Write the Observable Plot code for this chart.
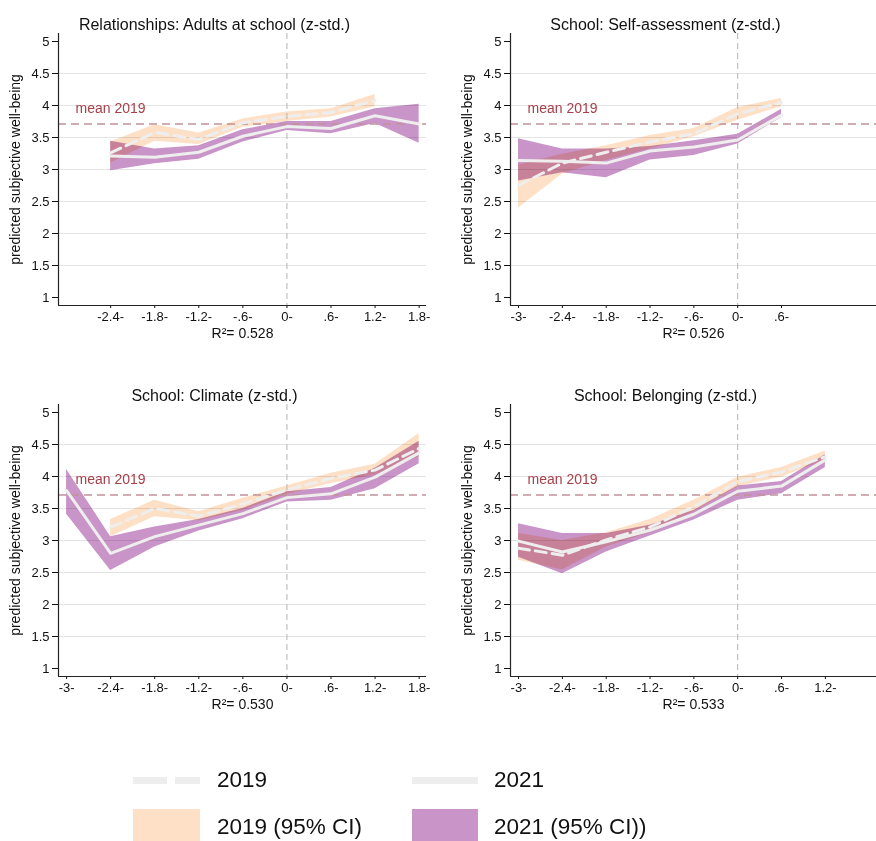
<!DOCTYPE html>
<html>
<head>
<meta charset="utf-8">
<script src="https://cdn.jsdelivr.net/npm/d3@7"></script>
<script src="https://cdn.jsdelivr.net/npm/@observablehq/plot@0.6"></script>
<style>
  html, body { margin: 0; padding: 0; background: white; }
  body { font-family: "Liberation Sans", Arial, sans-serif; }
  #root { position: relative; width: 876px; height: 841px; overflow: hidden; background: white; }
  .panel { position: absolute; }
  .lg-text { position: absolute; font-size: 22.5px; line-height: 26px; color: #111; white-space: nowrap; }
  .lg-sw { position: absolute; }
</style>
</head>
<body>
<div id="root"></div>
<script>
// ---------- data ----------
const yTicks = [1, 1.5, 2, 2.5, 3, 3.5, 4, 4.5, 5];
const yGrid = [1.5, 2, 2.5, 3, 3.5, 4, 4.5];
const mean2019 = 3.71;
const meanLabel = "mean 2019";
const yLabel = "predicted subjective well-being";
const tickLabels = {"-3": "-3-", "-2.4": "-2.4-", "-1.8": "-1.8-", "-1.2": "-1.2-", "-0.6": "-.6-", "0": "0-", "0.6": ".6-", "1.2": "1.2-", "1.8": "1.8-"};

// Panel 1: Relationships: Adults at school
const adultsTitle = "Relationships: Adults at school (z-std.)";
const adultsR2 = "R²= 0.528";
const adultsTicks = [-2.4, -1.8, -1.2, -0.6, 0, 0.6, 1.2, 1.8];
const adultsX2019 = [-2.4, -1.8, -1.2, -0.6, 0, 0.6, 1.2];
const adults2019 = [3.26, 3.58, 3.47, 3.73, 3.83, 3.89, 4.08];
const adults2019lo = [3.10, 3.44, 3.39, 3.66, 3.75, 3.82, 3.98];
const adults2019hi = [3.43, 3.70, 3.57, 3.79, 3.90, 3.95, 4.17];
const adultsX2021 = [-2.4, -1.8, -1.2, -0.6, 0, 0.6, 1.2, 1.8];
const adults2021 = [3.21, 3.19, 3.27, 3.52, 3.67, 3.64, 3.84, 3.71];
const adults2021lo = [2.98, 3.09, 3.16, 3.43, 3.61, 3.56, 3.72, 3.41];
const adults2021hi = [3.44, 3.32, 3.37, 3.62, 3.75, 3.75, 3.95, 4.02];

// Panel 2: School: Self-assessment
const selfTitle = "School: Self-assessment (z-std.)";
const selfR2 = "R²= 0.526";
const selfTicks = [-3, -2.4, -1.8, -1.2, -0.6, 0, 0.6];
const selfX2019 = [-3, -2.4, -1.8, -1.2, -0.6, 0, 0.6];
const self2019 = [2.75, 3.10, 3.27, 3.43, 3.56, 3.87, 4.05];
const self2019lo = [2.40, 2.93, 3.14, 3.32, 3.51, 3.77, 3.98];
const self2019hi = [3.07, 3.24, 3.37, 3.53, 3.64, 3.97, 4.11];
const selfX2021 = [-3, -2.4, -1.8, -1.2, -0.6, 0, 0.6];
const self2021 = [3.14, 3.13, 3.10, 3.29, 3.35, 3.46, 3.85];
const self2021lo = [2.82, 2.95, 2.87, 3.15, 3.22, 3.40, 3.81];
const self2021hi = [3.48, 3.32, 3.32, 3.36, 3.45, 3.55, 3.94];

// Panel 3: School: Climate
const climateTitle = "School: Climate (z-std.)";
const climateR2 = "R²= 0.530";
const climateTicks = [-3, -2.4, -1.8, -1.2, -0.6, 0, 0.6, 1.2, 1.8];
const climateX2019 = [-2.4, -1.8, -1.2, -0.6, 0, 0.6, 1.2, 1.8];
const climate2019 = [3.21, 3.50, 3.38, 3.57, 3.79, 3.97, 4.10, 4.44];
const climate2019lo = [3.06, 3.37, 3.31, 3.47, 3.72, 3.89, 4.02, 4.31];
const climate2019hi = [3.33, 3.63, 3.45, 3.66, 3.85, 4.05, 4.19, 4.67];
const climateX2021 = [-3, -2.4, -1.8, -1.2, -0.6, 0, 0.6, 1.2, 1.8];
const climate2021 = [3.78, 2.80, 3.06, 3.24, 3.42, 3.67, 3.73, 3.99, 4.37];
const climate2021lo = [3.41, 2.53, 2.90, 3.15, 3.34, 3.60, 3.63, 3.81, 4.20];
const climate2021hi = [4.11, 3.06, 3.21, 3.33, 3.50, 3.76, 3.83, 4.13, 4.55];

// Panel 4: School: Belonging
const belongTitle = "School: Belonging (z-std.)";
const belongR2 = "R²= 0.533";
const belongTicks = [-3, -2.4, -1.8, -1.2, -0.6, 0, 0.6, 1.2];
const belongX2019 = [-3, -2.4, -1.8, -1.2, -0.6, 0, 0.6, 1.2];
const belong2019 = [2.88, 2.77, 3.01, 3.21, 3.53, 3.92, 4.07, 4.31];
const belong2019lo = [2.69, 2.54, 2.90, 3.12, 3.45, 3.84, 3.99, 4.26];
const belong2019hi = [3.11, 3.00, 3.12, 3.33, 3.63, 3.99, 4.14, 4.40];
const belongX2021 = [-3, -2.4, -1.8, -1.2, -0.6, 0, 0.6, 1.2];
const belong2021 = [2.99, 2.82, 2.98, 3.16, 3.41, 3.77, 3.85, 4.26];
const belong2021lo = [2.74, 2.48, 2.82, 3.07, 3.32, 3.63, 3.73, 4.14];
const belong2021hi = [3.26, 3.11, 3.11, 3.24, 3.47, 3.85, 3.92, 4.34];

// legend
const legendItems = ["2019", "2021", "2019 (95% CI)", "2021 (95% CI))"];

// ---------- style ----------
const xDomain = [-3.11, 1.9];
const yDomain = [0.875, 5.125];
const c19 = "#fde0c5";
const c21 = "#c994c7";
const lineColor = "#eeeeee";
const font = "'Liberation Sans', Arial, sans-serif";

function rows(x, m, lo, hi) {
  return x.map((v, i) => ({x: v, y: m[i], lo: lo[i], hi: hi[i]}));
}

function panel(p) {
  const d19 = rows(p.x19, p.m19, p.lo19, p.hi19);
  const d21 = rows(p.x21, p.m21, p.lo21, p.hi21);
  const svg = Plot.plot({
    width: p.width, height: 360,
    marginLeft: p.marginLeft, marginRight: p.marginRight, marginTop: 33, marginBottom: 55,
    x: {domain: xDomain, axis: null, label: null},
    y: {domain: yDomain, axis: null, label: null},
    style: {fontFamily: font, fontSize: "13px", color: "#111", background: "white", overflow: "visible"},
    marks: [
      Plot.gridY(yGrid, {stroke: "#e4e4e4", strokeOpacity: 1}),
      Plot.areaY(d19, {x: "x", y1: "lo", y2: "hi", fill: c19, mixBlendMode: "multiply"}),
      Plot.areaY(d21, {x: "x", y1: "lo", y2: "hi", fill: c21, mixBlendMode: "multiply"}),
      Plot.ruleX([0], {stroke: "#b3b3b3", strokeDasharray: "6,4", strokeWidth: 1}),
      Plot.ruleY([mean2019], {stroke: "#c1919b", strokeDasharray: "8,5", strokeWidth: 1.5}),
      Plot.line(d19, {x: "x", y: "y", stroke: lineColor, strokeWidth: 3, strokeDasharray: "11,6"}),
      Plot.line(d21, {x: "x", y: "y", stroke: lineColor, strokeWidth: 3}),
      Plot.axisY(yTicks, {tickSize: 6, tickPadding: 3, fontSize: 13, label: null, tickFormat: d => String(d)}),
      Plot.axisX(p.ticks, {tickSize: 3, tickPadding: 3, fontSize: 13, label: null, tickFormat: d => tickLabels[String(d)]}),
      Plot.ruleX([xDomain[0]], {stroke: "#222", strokeWidth: 1.2}),
      Plot.ruleY([yDomain[0]], {stroke: "#222", strokeWidth: 1.2}),
      Plot.text([p.title], {frameAnchor: "top", dy: -15, dx: -28, fontSize: 16, fill: "#111"}),
      Plot.text([p.r2], {frameAnchor: "bottom", dy: 32, fontSize: 14, fill: "#111"}),
      Plot.text([yLabel], {frameAnchor: "left", textAnchor: "middle", rotate: -90, dx: -43, fontSize: 14, fill: "#111"}),
      Plot.text([3.95], {y: d => d, text: () => meanLabel, frameAnchor: "left", dx: 17, textAnchor: "start", fontSize: 14, fill: "#a8404a"})
    ]
  });
  svg.querySelectorAll('g[aria-label="area"]').forEach(g => g.style.mixBlendMode = "multiply");
  const wrap = document.createElement("div");
  wrap.className = "panel";
  wrap.style.left = p.left + "px";
  wrap.style.top = p.top + "px";
  wrap.appendChild(svg);
  return wrap;
}

const root = document.getElementById("root");
root.appendChild(panel({left: 0, top: 0, width: 438, marginLeft: 58, marginRight: 12,
  title: adultsTitle, r2: adultsR2, ticks: adultsTicks,
  x19: adultsX2019, m19: adults2019, lo19: adults2019lo, hi19: adults2019hi,
  x21: adultsX2021, m21: adults2021, lo21: adults2021lo, hi21: adults2021hi}));
root.appendChild(panel({left: 440, top: 0, width: 436, marginLeft: 70, marginRight: 0,
  title: selfTitle, r2: selfR2, ticks: selfTicks,
  x19: selfX2019, m19: self2019, lo19: self2019lo, hi19: self2019hi,
  x21: selfX2021, m21: self2021, lo21: self2021lo, hi21: self2021hi}));
root.appendChild(panel({left: 0, top: 371, width: 438, marginLeft: 58, marginRight: 12,
  title: climateTitle, r2: climateR2, ticks: climateTicks,
  x19: climateX2019, m19: climate2019, lo19: climate2019lo, hi19: climate2019hi,
  x21: climateX2021, m21: climate2021, lo21: climate2021lo, hi21: climate2021hi}));
root.appendChild(panel({left: 440, top: 371, width: 436, marginLeft: 70, marginRight: 0,
  title: belongTitle, r2: belongR2, ticks: belongTicks,
  x19: belongX2019, m19: belong2019, lo19: belong2019lo, hi19: belong2019hi,
  x21: belongX2021, m21: belong2021, lo21: belong2021lo, hi21: belong2021hi}));

// ---------- legend ----------
function addDiv(cls, css, text) {
  const d = document.createElement("div");
  d.className = cls;
  Object.assign(d.style, css);
  if (text != null) d.textContent = text;
  root.appendChild(d);
}
// 2019 dashed line
addDiv("lg-sw", {left: "133px", top: "777px", width: "34px", height: "7px", background: lineColor});
addDiv("lg-sw", {left: "175px", top: "777px", width: "25px", height: "7px", background: lineColor});
addDiv("lg-text", {left: "217px", top: "767px"}, legendItems[0]);
// 2021 solid line
addDiv("lg-sw", {left: "412px", top: "777px", width: "66px", height: "7px", background: lineColor});
addDiv("lg-text", {left: "494px", top: "767px"}, legendItems[1]);
// CI swatches
addDiv("lg-sw", {left: "133px", top: "809px", width: "67px", height: "34px", background: c19});
addDiv("lg-text", {left: "217px", top: "814px"}, legendItems[2]);
addDiv("lg-sw", {left: "412px", top: "809px", width: "66px", height: "34px", background: c21});
addDiv("lg-text", {left: "494px", top: "814px"}, legendItems[3]);
</script>
</body>
</html>
